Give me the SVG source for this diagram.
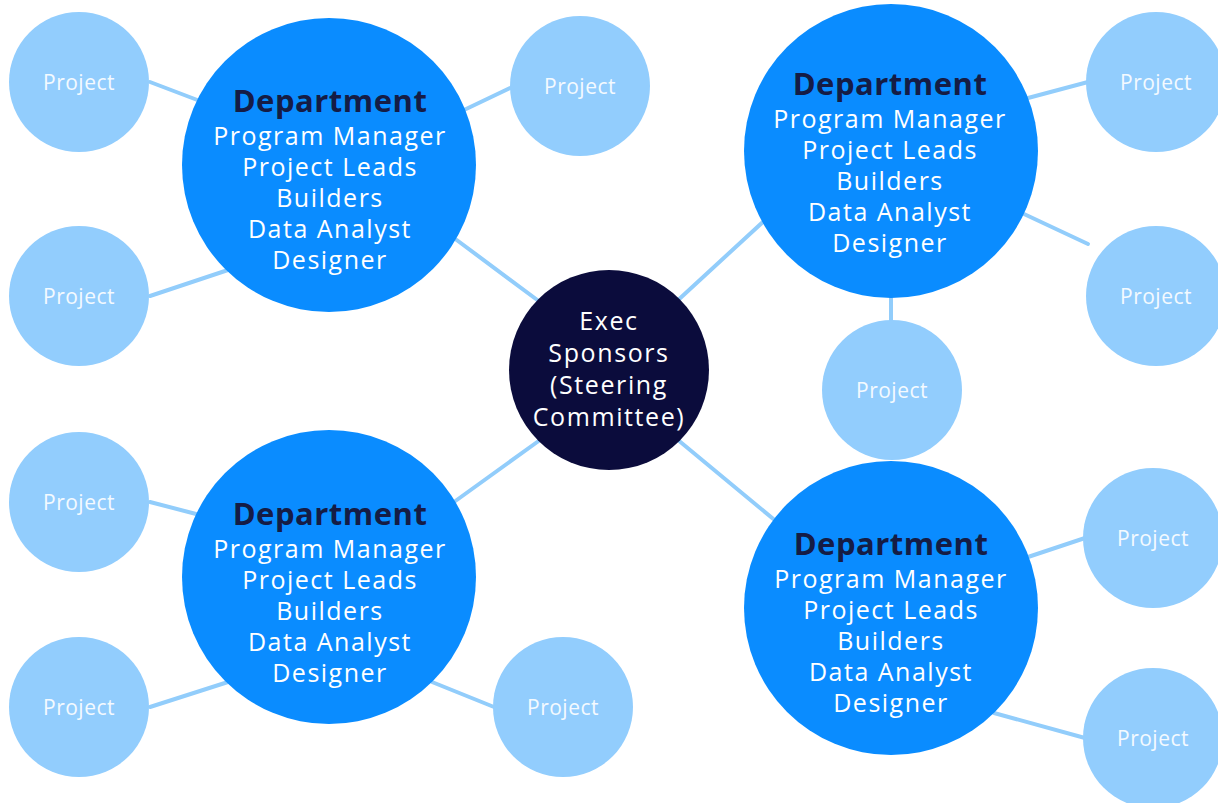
<svg xmlns="http://www.w3.org/2000/svg" width="1218" height="803" viewBox="0 0 1218 803">
<style>
.conn line{stroke:#92CDFB;stroke-width:4;stroke-linecap:round}
.proj circle{fill:#92CDFD}
.proj text{fill:#F4FAFF;font-family:"Open Sans",sans-serif;font-size:21px;letter-spacing:0.5px;text-anchor:middle;dominant-baseline:central}
.dept circle{fill:#0A8CFF}
.dept text{fill:#FFFFFF;font-family:"Open Sans",sans-serif;font-size:25px;letter-spacing:1.5px;text-anchor:middle;dominant-baseline:central}
.dept text.h{fill:#151C45;font-weight:bold;font-size:31px;letter-spacing:0.5px}
.exec circle{fill:#0B0C3C}
.exec text{fill:#FFFFFF;font-family:"Open Sans",sans-serif;font-size:25px;letter-spacing:1.6px;text-anchor:middle;dominant-baseline:central}
</style>
<rect width="1218" height="803" fill="#FFFFFF"/>
<g id="connectors" class="conn">
<line x1="150" y1="82" x2="200" y2="101"/>
<line x1="510" y1="88" x2="464" y2="110"/>
<line x1="150" y1="296" x2="228" y2="270"/>
<line x1="454" y1="238" x2="540" y2="302"/>
<line x1="676" y1="302" x2="765" y2="220"/>
<line x1="1028" y1="98" x2="1088" y2="82"/>
<line x1="1024" y1="214" x2="1088" y2="244"/>
<line x1="891" y1="294" x2="891" y2="324"/>
<line x1="540" y1="440" x2="454" y2="502"/>
<line x1="678" y1="440" x2="777" y2="522"/>
<line x1="150" y1="502" x2="200" y2="515"/>
<line x1="150" y1="707" x2="228" y2="682"/>
<line x1="432" y1="682" x2="494" y2="707"/>
<line x1="1028" y1="557" x2="1085" y2="538"/>
<line x1="994" y1="713" x2="1085" y2="738"/>
</g>
<g id="exec" class="exec">
<circle cx="609" cy="370" r="100"/>
<text x="609" y="320">Exec</text>
<text x="609" y="352">Sponsors</text>
<text x="609" y="384">(Steering</text>
<text x="609" y="416">Committee)</text>
</g>
<g id="dept-tl" class="dept">
<circle cx="329" cy="165" r="147"/>
<text class="h" x="330" y="100">Department</text>
<text x="330" y="135">Program Manager</text>
<text x="330" y="166">Project Leads</text>
<text x="330" y="197">Builders</text>
<text x="330" y="228">Data Analyst</text>
<text x="330" y="259">Designer</text>
</g>
<g id="dept-tr" class="dept">
<circle cx="891" cy="151" r="147"/>
<text class="h" x="890" y="83">Department</text>
<text x="890" y="118">Program Manager</text>
<text x="890" y="149">Project Leads</text>
<text x="890" y="180">Builders</text>
<text x="890" y="211">Data Analyst</text>
<text x="890" y="242">Designer</text>
</g>
<g id="dept-bl" class="dept">
<circle cx="329" cy="577" r="147"/>
<text class="h" x="330" y="513">Department</text>
<text x="330" y="548">Program Manager</text>
<text x="330" y="579">Project Leads</text>
<text x="330" y="610">Builders</text>
<text x="330" y="641">Data Analyst</text>
<text x="330" y="672">Designer</text>
</g>
<g id="dept-br" class="dept">
<circle cx="891" cy="608" r="147"/>
<text class="h" x="891" y="543">Department</text>
<text x="891" y="578">Program Manager</text>
<text x="891" y="609">Project Leads</text>
<text x="891" y="640">Builders</text>
<text x="891" y="671">Data Analyst</text>
<text x="891" y="702">Designer</text>
</g>
<g id="p1" class="proj"><circle cx="79" cy="82" r="70"/><text x="79" y="82">Project</text></g>
<g id="p2" class="proj"><circle cx="580" cy="86" r="70"/><text x="580" y="86">Project</text></g>
<g id="p3" class="proj"><circle cx="79" cy="296" r="70"/><text x="79" y="296">Project</text></g>
<g id="p4" class="proj"><circle cx="1156" cy="82" r="70"/><text x="1156" y="82">Project</text></g>
<g id="p5" class="proj"><circle cx="1156" cy="296" r="70"/><text x="1156" y="296">Project</text></g>
<g id="p6" class="proj"><circle cx="892" cy="390" r="70"/><text x="892" y="390">Project</text></g>
<g id="p7" class="proj"><circle cx="79" cy="502" r="70"/><text x="79" y="502">Project</text></g>
<g id="p8" class="proj"><circle cx="79" cy="707" r="70"/><text x="79" y="707">Project</text></g>
<g id="p9" class="proj"><circle cx="563" cy="707" r="70"/><text x="563" y="707">Project</text></g>
<g id="p10" class="proj"><circle cx="1153" cy="538" r="70"/><text x="1153" y="538">Project</text></g>
<g id="p11" class="proj"><circle cx="1153" cy="738" r="70"/><text x="1153" y="738">Project</text></g>
</svg>
